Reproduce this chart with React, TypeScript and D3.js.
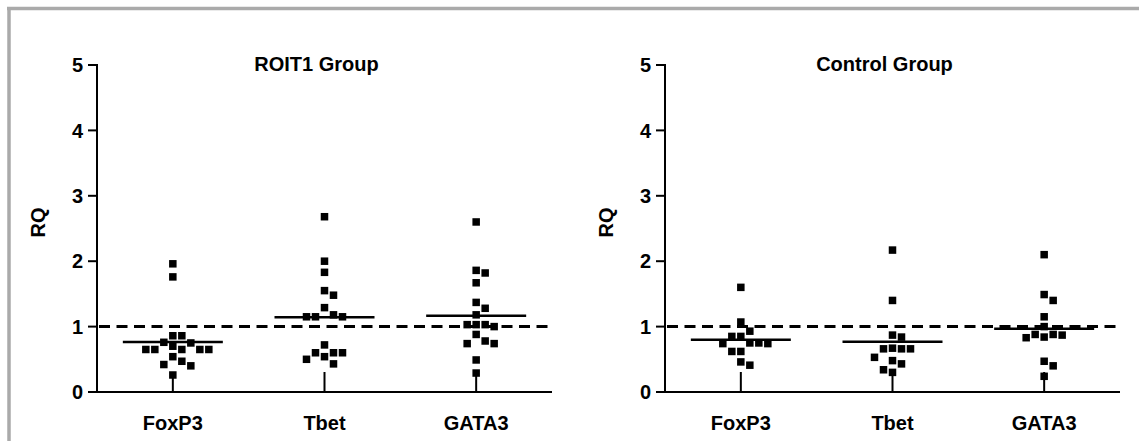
import React from 'react'
import * as d3 from 'd3'

// RQ values
const categories = ['FoxP3', 'Tbet', 'GATA3']
const yTicks = [0, 1, 2, 3, 4, 5]
const referenceLevel = 1

const roitFoxP3 = [1.96, 1.76, 0.86, 0.86, 0.76, 0.75, 0.70, 0.65, 0.65, 0.65, 0.65, 0.65, 0.54, 0.47, 0.42, 0.40, 0.26]
const roitTbet = [2.68, 2.00, 1.83, 1.55, 1.48, 1.29, 1.18, 1.15, 1.15, 1.15, 0.72, 0.60, 0.60, 0.60, 0.54, 0.50, 0.43]
const roitGata3 = [2.60, 1.86, 1.82, 1.67, 1.37, 1.28, 1.18, 1.03, 1.03, 1.03, 1.00, 0.88, 0.78, 0.74, 0.74, 0.49, 0.29]

const controlFoxP3 = [1.60, 1.07, 0.93, 0.85, 0.85, 0.75, 0.75, 0.74, 0.74, 0.62, 0.62, 0.46, 0.41]
const controlTbet = [2.17, 1.40, 0.87, 0.84, 0.67, 0.66, 0.66, 0.66, 0.53, 0.48, 0.43, 0.34, 0.30]
const controlGata3 = [2.10, 1.49, 1.40, 1.15, 1.00, 0.88, 0.88, 0.87, 0.84, 0.83, 0.47, 0.40, 0.24]

const W = 1139, H = 441
const plotW = 455
const yTop = 65, yBottom = 392
const FONT = "'Liberation Sans', Arial, sans-serif"
const SYM = 7.5

const y = d3.scaleLinear().domain([0, 5]).range([yBottom, yTop])

// simple column-scatter dodge so stacked points sit side by side
function swarm(values: number[], step = 4.5, minDx = 8.5, minDy = 9.5) {
  const order = values.map((_, i) => i).sort((a, b) => values[b] - values[a])
  const placed: { dx: number; py: number }[] = []
  const out: { v: number; dx: number; py: number }[] = new Array(values.length)
  for (const i of order) {
    const py = y(values[i])
    let dx = 0
    for (let n = 0; n < 60; n++) {
      dx = n === 0 ? 0 : (n % 2 ? 1 : -1) * Math.ceil(n / 2) * step
      const hit = placed.some(p => Math.abs(p.dx - dx) < minDx && Math.abs(p.py - py) < minDy)
      if (!hit) break
    }
    placed.push({ dx, py })
    out[i] = { v: values[i], dx, py }
  }
  return out
}

type PanelProps = { x0: number; title: string; groups: number[][] }

const Panel = ({ x0, title, groups }: PanelProps) => {
  const x = d3.scaleBand<string>().domain(categories).range([x0, x0 + plotW])
  const half = 50
  return (
    <g fontFamily={FONT} fontWeight="bold">
      <text x={x0 + plotW / 2 - 8} y={71} textAnchor="middle" fontSize={20}>{title}</text>
      <text transform={`translate(${x0 - 52},${(yTop + yBottom) / 2 - 6}) rotate(-90)`} textAnchor="middle" fontSize={20}>RQ</text>

      {/* y axis */}
      <line x1={x0} x2={x0} y1={y(5) - 1} y2={y(0)} stroke="#000" strokeWidth={2} />
      {yTicks.map(t => (
        <g key={t}>
          <line x1={x0 - 9} x2={x0} y1={y(t)} y2={y(t)} stroke="#000" strokeWidth={2} />
          <text x={x0 - 14} y={y(t)} dy="0.36em" textAnchor="end" fontSize={20}>{t}</text>
        </g>
      ))}

      {/* x axis with inward ticks */}
      <line x1={x0 - 1} x2={x0 + plotW} y1={y(0)} y2={y(0)} stroke="#000" strokeWidth={2} />
      {categories.map(c => {
        const cx = x(c)! + x.bandwidth() / 2
        return (
          <g key={c}>
            <line x1={cx} x2={cx} y1={y(0)} y2={y(0) - 20} stroke="#000" strokeWidth={2} />
            <text x={cx} y={430} textAnchor="middle" fontSize={20}>{c}</text>
          </g>
        )
      })}

      {/* mean lines */}
      {groups.map((vals, i) => {
        const cx = x(categories[i])! + x.bandwidth() / 2
        const m = d3.mean(vals)!
        return <line key={i} x1={cx - half} x2={cx + half} y1={y(m)} y2={y(m)} stroke="#000" strokeWidth={2.5} />
      })}

      {/* reference line at RQ = 1 */}
      <line x1={x0 + 2} x2={x0 + plotW} y1={y(referenceLevel)} y2={y(referenceLevel)}
        stroke="#000" strokeWidth={3} strokeDasharray="11 6.5" />

      {groups.map((vals, i) => {
        const cx = x(categories[i])! + x.bandwidth() / 2
        return swarm(vals).map((p, j) => (
          <rect key={`${i}-${j}`} x={cx + p.dx - SYM / 2} y={p.py - SYM / 2} width={SYM} height={SYM} fill="#000" />
        ))
      })}
    </g>
  )
}

export default function App() {
  return (
    <svg width={W} height={H} style={{ position: 'absolute', left: 0, top: 0, background: '#fff' }}>
      <rect x={0} y={0} width={W} height={H} fill="#fff" />
      {/* frame */}
      <line x1={7} x2={W} y1={8.5} y2={8.5} stroke="#aaa" strokeWidth={3.5} />
      <line x1={9} x2={9} y1={7} y2={H} stroke="#aaa" strokeWidth={3.5} />
      <Panel x0={97} title="ROIT1 Group" groups={[roitFoxP3, roitTbet, roitGata3]} />
      <Panel x0={665} title="Control Group" groups={[controlFoxP3, controlTbet, controlGata3]} />
    </svg>
  )
}
